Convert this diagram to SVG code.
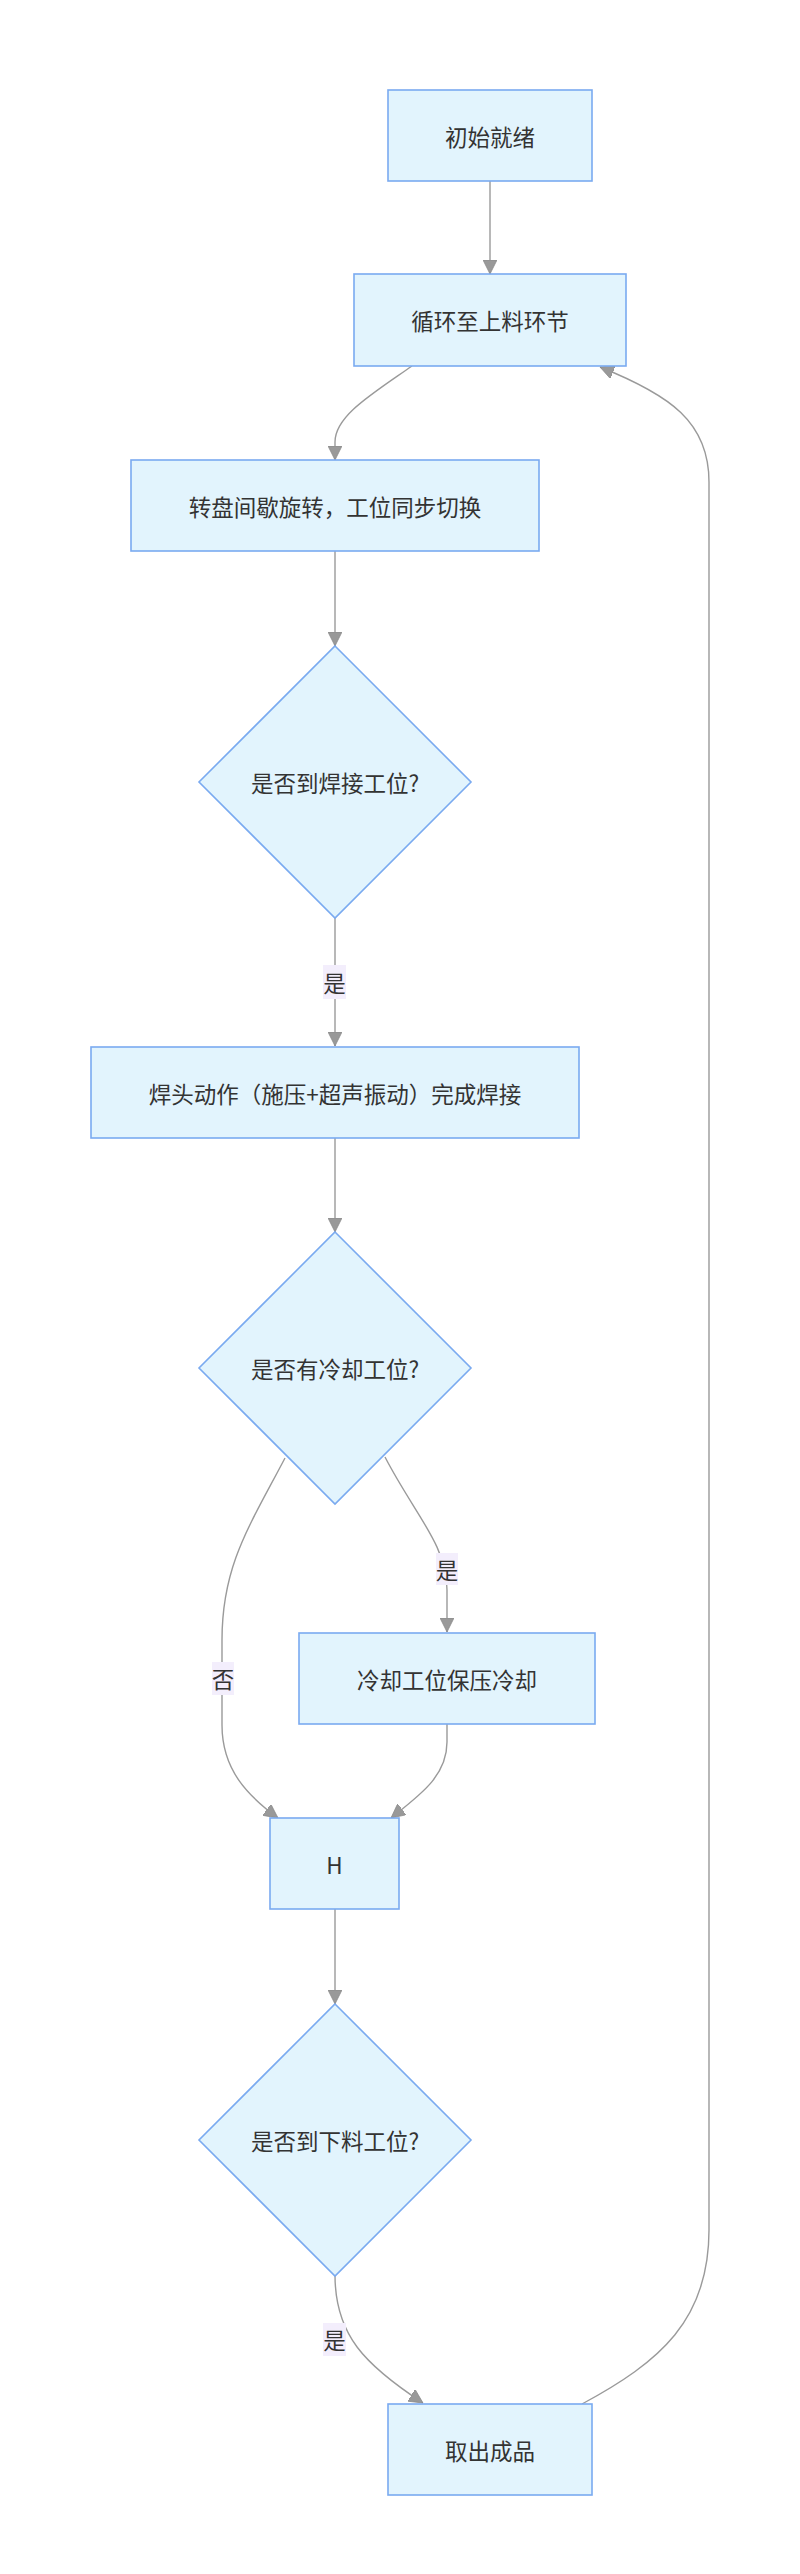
<svg xmlns="http://www.w3.org/2000/svg" width="800" height="2574" viewBox="0 0 800 2574">
<style>
.node rect, .node polygon { fill: #e2f4fd; stroke: #7aaaf0; stroke-width: 1.6; }
.node text { font-family: "Noto Sans CJK SC", "Noto Sans", sans-serif; font-size: 22.5px; fill: #333333; text-anchor: middle; dominant-baseline: central; }
.edge { fill: none; stroke: #9a9a9a; stroke-width: 1.4; marker-end: url(#arrow); }
.elabel rect { fill: #f3eefc; stroke: none; }
.elabel text { font-family: "Noto Sans CJK SC", "Noto Sans", sans-serif; font-size: 22.5px; fill: #333333; text-anchor: middle; dominant-baseline: central; }
</style>
<defs>
<marker id="arrow" viewBox="0 0 10 10" refX="10" refY="5" markerUnits="userSpaceOnUse" markerWidth="14" markerHeight="14" orient="auto">
<path d="M0,0 L10,5 L0,10 z" fill="#999999" stroke="#888888" stroke-width="0.5"/>
</marker>
</defs>
<rect x="0" y="0" width="800" height="2574" fill="#ffffff"/>
<g id="connectors">
<path class="edge" d="M490,181 L490,274"/>
<path class="edge" d="M412,366 C372,394 335,416 335,442 L335,460"/>
<path class="edge" d="M335,551 L335,646"/>
<path class="edge" d="M335,918 L335,1046"/>
<path class="edge" d="M335,1138 L335,1232"/>
<path class="edge" d="M285,1458 C250,1525 222,1565 222,1640 L222,1725 C222,1770 248,1796 278,1818"/>
<path class="edge" d="M385,1457 C415,1515 447,1545 447,1590 L447,1632"/>
<path class="edge" d="M447,1724 L447,1742 C447,1776 420,1795 391,1818"/>
<path class="edge" d="M335,1909 L335,2004"/>
<path class="edge" d="M335,2275 C335,2335 365,2365 423,2403"/>
<path class="edge" d="M582,2404 C660,2362 709,2320 709,2230 L709,482 C709,422 670,395 600,367"/>
</g>
<g id="edge-labels">
<g class="elabel" id="label-yes1"><rect x="323" y="965" width="23" height="34"/><text x="334.5" y="982">是</text></g>
<g class="elabel" id="label-no"><rect x="212" y="1662" width="22" height="33"/><text x="223" y="1678">否</text></g>
<g class="elabel" id="label-yes2"><rect x="436" y="1553" width="22" height="32"/><text x="447" y="1569">是</text></g>
<g class="elabel" id="label-yes3"><rect x="323" y="2323" width="23" height="33"/><text x="334.5" y="2339">是</text></g>
</g>
<g id="A" class="node"><rect x="388" y="90" width="204" height="91"/><text x="490" y="135.5">初始就绪</text></g>
<g id="B" class="node"><rect x="354" y="274" width="272" height="92"/><text x="490" y="320">循环至上料环节</text></g>
<g id="C" class="node"><rect x="131" y="460" width="408" height="91"/><text x="335" y="505.5">转盘间歇旋转，工位同步切换</text></g>
<g id="D1" class="node"><polygon points="335,646 471,782 335,918 199,782"/><text x="335" y="782">是否到焊接工位?</text></g>
<g id="E" class="node"><rect x="91" y="1047" width="488" height="91"/><text x="335" y="1092.5">焊头动作（施压+超声振动）完成焊接</text></g>
<g id="D2" class="node"><polygon points="335,1232 471,1368 335,1504 199,1368"/><text x="335" y="1368">是否有冷却工位?</text></g>
<g id="F" class="node"><rect x="299" y="1633" width="296" height="91"/><text x="447" y="1678.5">冷却工位保压冷却</text></g>
<g id="H" class="node"><rect x="270" y="1818" width="129" height="91"/><text x="334.5" y="1863.5">H</text></g>
<g id="D3" class="node"><polygon points="335,2004 471,2140 335,2276 199,2140"/><text x="335" y="2140">是否到下料工位?</text></g>
<g id="G" class="node"><rect x="388" y="2404" width="204" height="91"/><text x="490" y="2449.5">取出成品</text></g>
</svg>
